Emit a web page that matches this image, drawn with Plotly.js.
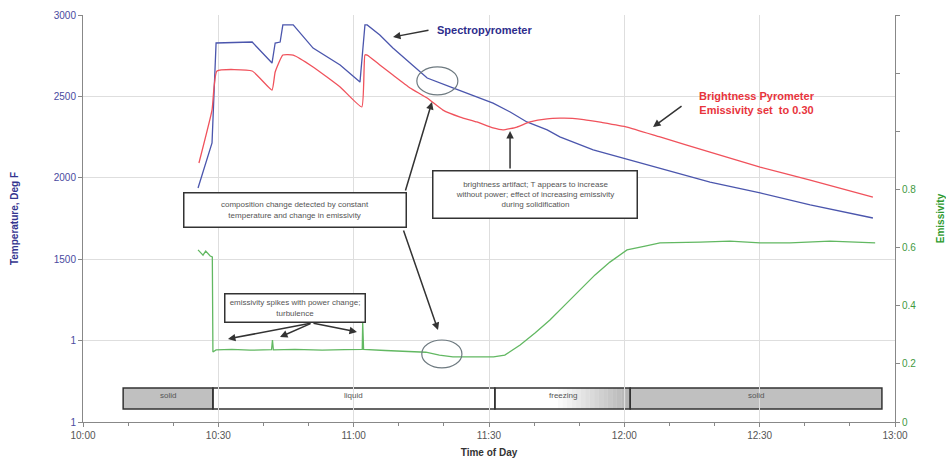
<!DOCTYPE html>
<html>
<head>
<meta charset="utf-8">
<script src="https://cdn.plot.ly/plotly-3.0.1.min.js"></script>
<style>html,body{margin:0;padding:0;background:#fff;}#chart{width:946px;height:468px;}</style>
</head>
<body>
<div id="chart"></div>
<script>
// ---- data (time of day, temperature deg F, emissivity) ----
const spectroTime = ["10:25:30","10:28:36","10:29:30","10:37:30","10:41:54","10:42:36","10:43:42","10:44:18","10:46:36","10:51:00","10:57:00","11:01:24","11:02:30","11:03:00","11:05:48","11:08:42","11:12:30","11:16:18","11:22:00","11:27:18","11:30:54","11:34:42","11:38:24","11:42:54","11:45:42","11:53:06","11:59:42","12:07:54","12:19:00","12:30:06","12:41:12","12:55:06"];
const spectroTemp = [1937,2214,2828,2834,2705,2828,2834,2939,2939,2797,2693,2588,2939,2939,2877,2797,2705,2613,2552,2496,2459,2404,2343,2294,2251,2171,2122,2060,1974,1907,1833,1753];

const brightTime = ["10:25:42","10:28:36","10:29:42","10:37:30","10:41:54","10:42:36","10:44:18","10:46:36","10:51:00","10:57:00","11:01:48","11:02:30","11:03:00","11:05:48","11:08:42","11:12:30","11:16:18","11:19:48","11:23:36","11:27:18","11:30:54","11:33:06","11:36:12","11:39:06","11:42:54","11:45:42","11:48:30","11:51:00","11:55:00","12:00:36","12:07:54","12:19:00","12:30:06","12:41:12","12:55:06"];
const brightTemp = [2091,2416,2656,2656,2539,2650,2754,2754,2681,2558,2435,2754,2754,2693,2631,2552,2490,2416,2373,2343,2306,2294,2312,2343,2362,2366,2365,2358,2340,2312,2251,2158,2066,1986,1882];

const emisTime = ["10:25:30","10:26:00","10:26:36","10:27:12","10:28:12","10:28:40","10:28:48","10:29:30","10:33:00","10:37:00","10:41:48","10:42:00","10:42:12","10:47:00","10:53:00","10:58:00","11:01:54","11:02:00","11:02:12","11:07:00","11:12:00","11:16:00","11:19:00","11:22:00","11:27:00","11:31:00","11:33:30","11:36:54","11:40:12","11:43:30","11:46:48","11:50:12","11:53:30","11:56:48","12:00:36","12:04:36","12:07:54","12:16:48","12:23:24","12:30:06","12:36:42","12:45:36","12:52:12","12:55:36"];
const emisVal = [0.592,0.585,0.574,0.588,0.571,0.568,0.241,0.248,0.250,0.247,0.249,0.282,0.248,0.250,0.247,0.249,0.250,0.344,0.250,0.246,0.244,0.240,0.230,0.224,0.224,0.224,0.230,0.265,0.306,0.351,0.402,0.454,0.506,0.550,0.592,0.605,0.616,0.619,0.622,0.616,0.616,0.622,0.619,0.616];

const phaseNames = ["solid","liquid","freezing","solid"];
const phaseStart = ["10:08:54","10:28:48","11:31:18","12:01:18"];
const phaseEnd   = ["10:28:48","11:31:18","12:01:18","12:57:06"];

const tempTickVals = [500,1000,1500,2000,2500,3000];
const tempTickText = ["1","1","1500","2000","2500","3000"];
const emisTickVals = [0,0.2,0.4,0.6,0.8,1.0,1.2,1.4];
const emisTickText = ["0","0.2","0.4","0.6","0.8","","",""];

// ---- helpers ----
const DAY = "2020-01-01 ";
const d = t => DAY + t;
function tm(min){ // minutes after 10:00 -> date string
  const s = Math.round(min*60);
  const h = 10 + Math.floor(s/3600), m = Math.floor((s%3600)/60), sec = s%60;
  const p = n => String(n).padStart(2,"0");
  return DAY + p(h)+":"+p(m)+":"+p(sec);
}
function toMin(t){ const a=t.split(":").map(Number); return (a[0]-10)*60+a[1]+(a[2]||0)/60; }

const FONT = "Liberation Sans, Arial, sans-serif";

const traces = [
  {x: spectroTime.map(d), y: spectroTemp, type:"scatter", mode:"lines", name:"Spectropyrometer",
   line:{color:"#4b56ad", width:1.3}, yaxis:"y"},
  {x: brightTime.map(d), y: brightTemp, type:"scatter", mode:"lines", name:"Brightness Pyrometer",
   line:{color:"#f0525c", width:1.3, shape:"spline", smoothing:0.4}, yaxis:"y"},
  {x: emisTime.map(d), y: emisVal, type:"scatter", mode:"lines", name:"Emissivity",
   line:{color:"#62b862", width:1.3}, yaxis:"y2"}
];

// ---- phase bar ----
const shapes = [];
const BY0 = 0.032, BY1 = 0.0835;
const phaseFill = ["#c0c0c0","#ffffff",null,"#c0c0c0"];
phaseNames.forEach((n,i)=>{
  const a = toMin(phaseStart[i]), b = toMin(phaseEnd[i]);
  if(phaseFill[i]){
    shapes.push({type:"rect", xref:"x", yref:"paper", x0:tm(a), x1:tm(b), y0:BY0, y1:BY1, layer:"between",
      fillcolor:phaseFill[i], line:{width:0}});
  } else {
    const N = 30;
    for(let k=0;k<N;k++){
      const f = (k+0.5)/N;
      let g = f < 0.45 ? 255 : Math.round(255 - (255-178)*((f-0.45)/0.55));
      shapes.push({type:"rect", xref:"x", yref:"paper", x0:tm(a+(b-a)*k/N), x1:tm(a+(b-a)*(k+1)/N+0.05), layer:"between",
        y0:BY0, y1:BY1, fillcolor:`rgb(${g},${g},${g})`, line:{width:0}});
    }
  }
});
phaseNames.forEach((n,i)=>{
  shapes.push({type:"rect", xref:"x", yref:"paper", x0:d(phaseStart[i]), x1:d(phaseEnd[i]), y0:BY0, y1:BY1,
    layer:"between", fillcolor:"rgba(0,0,0,0)", line:{color:"#333", width:1.5}});
});
// ellipses
shapes.push({type:"circle", xref:"x", yref:"y", x0:tm(74.0), x1:tm(83.1), y0:2509, y1:2681, line:{color:"#6e7a80", width:1.2}});
shapes.push({type:"circle", xref:"x", yref:"y2", x0:tm(75.1), x1:tm(84.0), y0:0.186, y1:0.282, line:{color:"#6e7a80", width:1.2}});

const annotations = [];
phaseNames.forEach((n,i)=>{
  const c = (toMin(phaseStart[i])+toMin(phaseEnd[i]))/2;
  annotations.push({x:tm(c), y:0.064, xref:"x", yref:"paper", yanchor:"middle", text:n, showarrow:false,
    font:{family:FONT, size:8, color:"#555"}});
});
// text labels
annotations.push({x:tm(88.9), y:2908, xref:"x", yref:"y", text:"<b>Spectropyrometer</b>", showarrow:false,
  font:{family:FONT, size:11, color:"#2d2d8c"}});
annotations.push({x:tm(149.4), y:2459, xref:"x", yref:"y", text:"<b>Brightness Pyrometer<br>Emissivity set  to 0.30</b>", showarrow:false,
  font:{family:FONT, size:11, color:"#e8343c"}});
const boxStyle = {showarrow:false, bgcolor:"#fff", bordercolor:"#333", borderwidth:1.5, borderpad:2,
  font:{family:FONT, size:8, color:"#555"}, align:"center", valign:"middle", xref:"x", yref:"y"};
annotations.push(Object.assign({}, boxStyle, {x:tm(47.1), y:1802, width:217, height:29,
  text:"composition change detected by constant<br>temperature and change in emissivity"}));
annotations.push(Object.assign({}, boxStyle, {x:tm(100.3), y:1900, width:199, height:42,
  text:"brightness artifact; T appears to increase<br>without power; effect of increasing emissivity<br>during solidification"}));
annotations.push(Object.assign({}, boxStyle, {x:tm(47.1), y:1203, width:135, height:23,
  text:"emissivity spikes with power change;<br>turbulence"}));
// arrows
const arrow = (xm, y, ax, ay) => ({x:tm(xm), y:y, xref:"x", yref:"y", ax:ax, ay:ay, text:"", showarrow:true,
  arrowhead:2, arrowsize:1, arrowwidth:1.5, arrowcolor:"#333"});
annotations.push(arrow(68.72, 2865, 37, -7));
annotations.push(arrow(126.36, 2312, 30, -22));
annotations.push(arrow(77.37, 2466, -27, 90));
annotations.push(arrow(78.70, 1065, -35, -101));
annotations.push(arrow(94.66, 2287, 0, 39));
annotations.push(arrow(32.14, 1010, 84, -16));
annotations.push(arrow(43.67, 1022, 32, -14));
annotations.push(arrow(60.74, 1053, -45, -9));

const layout = {
  width:946, height:468,
  margin:{l:83, r:51, t:15, b:46},
  paper_bgcolor:"#fff", plot_bgcolor:"#fff",
  showlegend:false,
  font:{family:FONT, size:10, color:"#444"},
  xaxis:{type:"date", range:[d("10:00:00"), d("13:00:00")], tickformat:"%H:%M",
    tick0:d("10:00:00"), dtick:1800000, ticks:"outside", ticklen:4, tickcolor:"#888",
    showgrid:true, gridcolor:"#dedede", gridwidth:1, showline:true, linecolor:"#888", linewidth:1,
    zeroline:false, tickfont:{family:FONT, size:10, color:"#555"},
    minor:{dtick:600000, ticks:"outside", ticklen:3, tickcolor:"#888", showgrid:false},
    title:{text:"<b>Time of Day</b>", standoff:8, font:{family:FONT, size:10, color:"#333"}}},
  yaxis:{range:[500,3000], tickvals:tempTickVals, ticktext:tempTickText, ticks:"outside", ticklen:4,
    tickcolor:"#888", showgrid:true, gridcolor:"#dedede", showline:true, linecolor:"#888",
    zeroline:false, tickfont:{family:FONT, size:10, color:"#4a4aa0"},
    title:{text:"<b>Temperature, Deg F</b>", standoff:33, font:{family:FONT, size:10, color:"#35358f"}}},
  yaxis2:{overlaying:"y", side:"right", range:[0,1.4], tickvals:emisTickVals, ticktext:emisTickText,
    ticks:"outside", ticklen:4, tickcolor:"#888", showgrid:false, showline:true, linecolor:"#888",
    zeroline:false, tickfont:{family:FONT, size:10, color:"#3f9a3f"},
    title:{text:"<b>Emissivity</b>", standoff:21, font:{family:FONT, size:10, color:"#2e9a2e"}}},
  shapes:shapes,
  annotations:annotations
};
Plotly.newPlot("chart", traces, layout, {displayModeBar:false, staticPlot:true});
</script>
</body>
</html>
